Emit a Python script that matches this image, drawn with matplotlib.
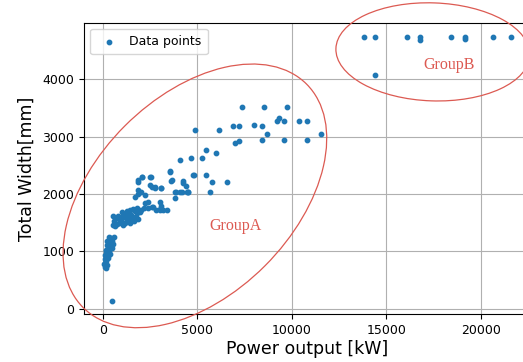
import matplotlib
matplotlib.use("Agg")
import matplotlib.pyplot as plt
from matplotlib.patches import Ellipse
import matplotlib.transforms as mtransforms

# Group A data (Power output kW, Total width mm)
power_a = [
    494,
    60, 100, 130, 110, 150, 180, 200, 160, 250, 220, 300, 350, 420, 500, 550, 450,
    380, 280, 200, 140, 320, 400, 600, 260, 90, 170, 230, 330, 480,
    520, 600, 700, 800, 900, 1000, 1100, 1200, 1300, 1400, 1500, 1600, 1700, 1800, 1950,
    650, 750, 850, 950, 1050, 1150, 1250, 1350, 1450, 1550, 1650, 1750, 1850, 560, 1000, 1300,
    1430, 1600, 1800, 2000, 2200, 2400, 2600, 2800, 3000, 3100,
    1690, 1850, 2000, 2220, 2050, 2490, 1870, 2490, 2750, 3100,
    2222, 2397, 2662, 3016, 3016, 3190, 3370, 3810, 3810, 3545, 3635, 4164, 4249, 4429, 4513, 4778,
    1868, 2048, 2540, 1868, 2577, 2751, 3069,
    3846, 4074, 4513, 5646, 4376, 3598, 4217, 5783, 6561, 3529, 4799, 5434,
    4090, 4656, 5222, 5434, 5995,
    7000, 7180, 8397, 9593, 10794, 4868, 6138, 8677, 11550,
    6896, 7180, 8007, 8397, 9190, 9312, 9593, 10370, 10794,
    7338, 8536, 9718,
]
width_a = [
    140,
    780, 720, 790, 860, 900, 830, 950, 1000, 1050, 1100, 1150, 1200, 1230, 1180, 1120, 1080,
    960, 880, 760, 700, 1000, 1150, 1250, 920, 940, 1020, 1180, 1240, 1060,
    1460, 1520, 1580, 1620, 1560, 1600, 1650, 1580, 1620, 1680, 1640, 1600, 1700, 1660, 1690,
    1440, 1480, 1500, 1540, 1450, 1500, 1560, 1540, 1500, 1560, 1520, 1600, 1560, 1620, 1680, 1700,
    1720, 1740, 1760, 1720, 1760, 1750, 1770, 1720, 1740, 1780,
    1950, 2000, 2040, 1980, 2300, 2300, 2215, 2157, 2127, 2099,
    1838, 1866, 1779, 1866, 1721, 1721, 1721, 1925, 2040, 2389, 2244, 2040, 2186, 2040, 2040, 2331,
    2244, 2291, 2291, 2070, 2127, 2099, 2099,
    2040, 2040, 2040, 2040, 2139, 2227, 2232, 2209, 2209, 2396, 2326, 2326,
    2598, 2622, 2622, 2762, 2720,
    2895, 2924, 2947, 2947, 2947, 3111, 3111, 3052, 3052,
    3186, 3186, 3209, 3186, 3278, 3320, 3278, 3278, 3278,
    3512, 3512, 3512,
]

# Group B data
power_b = [13825, 14392, 16101, 16772, 16772, 18413, 19153, 19153, 20651, 21571, 14392]
width_b = [4743, 4743, 4743, 4732, 4685, 4743, 4743, 4697, 4743, 4743, 4073]

x_ticks = [0, 5000, 10000, 15000, 20000]
y_ticks = [0, 1000, 2000, 3000, 4000]

W, H, DPI = 523, 362, 100
fig = plt.figure(figsize=(W / DPI, H / DPI), dpi=DPI)
ax_left, ax_right, ax_bottom, ax_top = 84, 530, 314, 22.7
ax = fig.add_axes([ax_left / W, 1 - ax_bottom / H, (ax_right - ax_left) / W, (ax_bottom - ax_top) / H])

ax.scatter(power_a + power_b, width_a + width_b, s=10, color='#1f77b4', label='Data points', zorder=3)

ax.set_xlim(-1000, 22600)
ax.set_ylim(-95, 4985)
ax.set_xticks(x_ticks)
ax.set_yticks(y_ticks)
ax.tick_params(labelsize=9)
ax.grid(True, color='#b0b0b0', linewidth=0.8)
ax.set_axisbelow(True)
ax.set_xlabel('Power output [kW]', fontsize=12.5, labelpad=2)
ax.set_ylabel('Total Width[mm]', fontsize=12.5, labelpad=5)

leg = ax.legend(loc='upper left', fontsize=9, handletextpad=0.6, borderpad=0.5)

red = '#dc5a52'
# Ellipse annotations (centre in data coords, size in inches)
def add_ellipse(cx, cy, w_in, h_in, angle):
    trans = fig.dpi_scale_trans + mtransforms.ScaledTranslation(cx, cy, ax.transData)
    e = Ellipse((0, 0), w_in, h_in, angle=angle, fill=False, edgecolor=red,
                linewidth=0.9, transform=trans, clip_on=False, zorder=4)
    ax.add_patch(e)

add_ellipse(4868, 1965, 3.16, 1.98, 45)
add_ellipse(17460, 4476, 1.94, 0.98, -2)

ax.text(7037, 1442, 'GroupA', color=red, fontsize=11.5, family='Liberation Serif',
        ha='center', va='center')
ax.text(18307, 4250, 'GroupB', color=red, fontsize=11.5, family='Liberation Serif',
        ha='center', va='center')

fig.savefig('out.png', dpi=DPI)
